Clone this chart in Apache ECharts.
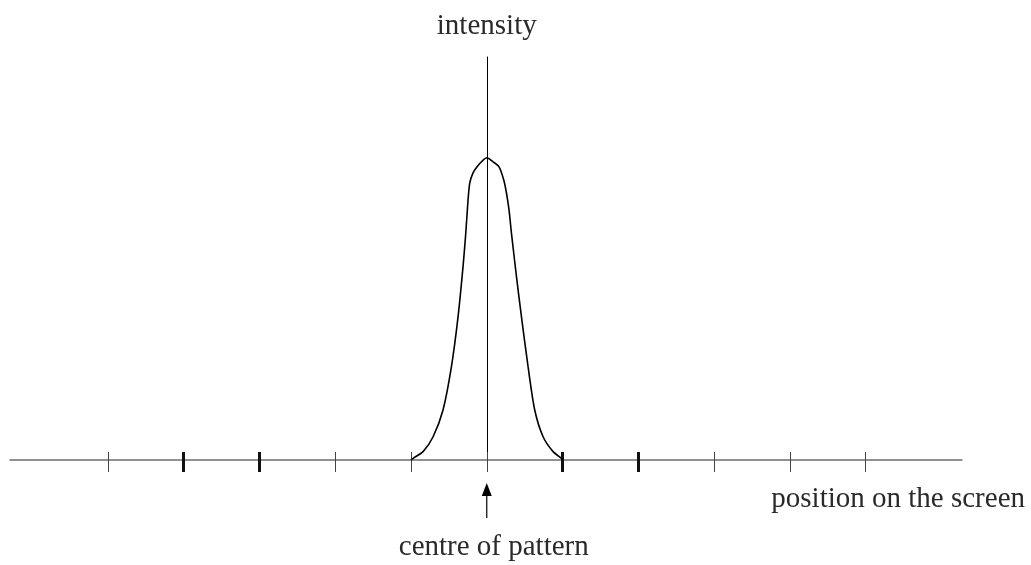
<!DOCTYPE html>
<html>
<head>
<meta charset="utf-8">
<script src="https://cdn.jsdelivr.net/npm/echarts@6/dist/echarts.min.js"></script>
<style>
  html, body { margin: 0; padding: 0; background: #fff; }
  #main { width: 1031px; height: 565px; }
</style>
</head>
<body>
<div id="main"></div>
<script>
// intensity curve (x in tick units, y arbitrary)
var curveX = [-1.0, -0.972, -0.84, -0.708, -0.577, -0.466, -0.379, -0.313, -0.277, -0.247, -0.224, -0.181, -0.128, -0.07, 0,
              0.083, 0.162, 0.224, 0.26, 0.294, 0.326, 0.392, 0.458, 0.545, 0.633, 0.743, 0.875, 0.985, 1.0];
var curveY = [0, 0.017, 0.083, 0.231, 0.496, 0.926, 1.42, 1.92, 2.25, 2.58, 2.75, 2.85, 2.91, 2.96, 3.0,
              2.96, 2.91, 2.78, 2.65, 2.48, 2.25, 1.82, 1.42, 0.926, 0.496, 0.231, 0.083, 0.017, 0];
var thinTicks = [-5, -2, -1, 0, 3, 4, 5];
var thickTicks = [-4, -3, 1, 2];

var serif = 'Liberation Serif';
var myChart = echarts.init(document.getElementById('main'));

var pts = [];
for (var i = 0; i < curveX.length; i++) {
    pts.push([curveX[i], curveY[i]]);
}

function tickAxis(vals, w, col) {
    return {
        type: 'value', min: -6.29, max: 6.27, position: 'bottom', offset: 12,
        axisLine: { show: false, onZero: false },
        axisTick: { show: true, inside: true, length: 20, customValues: vals, lineStyle: { color: col, width: w } },
        axisLabel: { show: false },
        splitLine: { show: false }
    };
}

myChart.setOption({
    animation: false,
    grid: { left: 10, right: 69, top: 57, bottom: 105 },
    xAxis: [
        {
            type: 'value', min: -6.29, max: 6.27, position: 'bottom',
            axisLine: { show: true, onZero: false, lineStyle: { color: '#6e6e6e', width: 1.5 } },
            axisTick: { show: false },
            axisLabel: { show: false },
            splitLine: { show: false }
        },
        tickAxis(thinTicks, 1, '#444'),
        tickAxis(thickTicks, 3, '#111')
    ],
    yAxis: {
        type: 'value', min: 0, max: 4,
        name: 'intensity', nameLocation: 'end', nameGap: 16,
        nameTextStyle: { fontFamily: serif, fontSize: 29, color: '#2a2a2a' },
        axisLine: { show: true, onZero: true, lineStyle: { color: '#000', width: 1 } },
        axisTick: { show: false },
        axisLabel: { show: false },
        splitLine: { show: false }
    },
    series: [{
        type: 'line',
        data: pts,
        smooth: 0.25,
        symbol: 'none',
        lineStyle: { color: '#000', width: 1.6 }
    }]
});

// arrow and labels under the axis, anchored on x = 0
var cx = myChart.convertToPixel({ xAxisIndex: 0 }, 0);
myChart.setOption({
    graphic: [
        { type: 'line', shape: { x1: cx, y1: 492, x2: cx, y2: 518 }, style: { stroke: '#000', lineWidth: 1.2 } },
        { type: 'polygon', shape: { points: [[cx, 483], [cx - 5, 496], [cx + 5, 496]] }, style: { fill: '#000' } },
        { type: 'text', x: cx + 7, y: 547, style: { text: 'centre of pattern', font: '29px ' + serif, fill: '#2a2a2a', align: 'center', verticalAlign: 'middle' } },
        { type: 'text', x: 1025, y: 499, style: { text: 'position on the screen', font: '29px ' + serif, fill: '#2a2a2a', align: 'right', verticalAlign: 'middle' } }
    ]
});
</script>
</body>
</html>
